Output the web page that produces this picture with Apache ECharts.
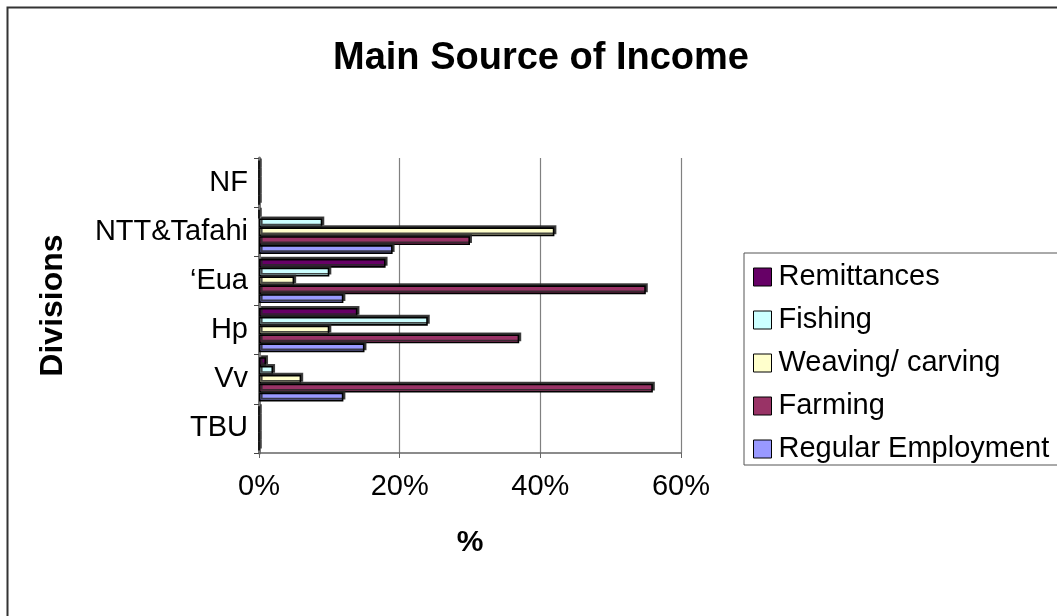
<!DOCTYPE html>
<html>
<head>
<meta charset="utf-8">
<script src="https://cdn.jsdelivr.net/npm/echarts@6/dist/echarts.min.js"></script>
<style>
html,body{margin:0;padding:0;background:#fff;}
#chart{width:1057px;height:616px;}
</style>
</head>
<body>
<div id="chart"></div>
<script>
const divisions = ['TBU', 'Vv', 'Hp', '\u2018Eua', 'NTT&Tafahi', 'NF'];
const regularEmployment = [0, 12, 15, 12, 19, 0];
const farming = [0, 56, 37, 55, 30, 0];
const weavingCarving = [0, 6, 10, 5, 42, 0];
const fishing = [0, 2, 24, 10, 9, 0];
const remittances = [0, 1, 14, 18, 0, 0];
const xTicks = [0, 20, 40, 60];

const FONT = 'Liberation Sans, Arial, sans-serif';
const seriesDefs = [
  {name: 'Remittances', data: remittances, color: '#660066'},
  {name: 'Fishing', data: fishing, color: '#CCFFFF'},
  {name: 'Weaving/ carving', data: weavingCarving, color: '#FFFFCC'},
  {name: 'Farming', data: farming, color: '#993366'},
  {name: 'Regular Employment', data: regularEmployment, color: '#9999FF'}
];

const chart = echarts.init(document.getElementById('chart'), null, {renderer: 'canvas'});
chart.setOption({
  animation: false,
  backgroundColor: '#fff',
  title: {
    text: 'Main Source of Income',
    left: 536, top: 35, textAlign: 'center',
    textStyle: {fontFamily: FONT, fontSize: 38, fontWeight: 'bold', color: '#000'}
  },
  graphic: [{
    type: 'rect', silent: true, z: -10,
    shape: {x: 7.5, y: 7.5, width: 1100, height: 700},
    style: {fill: '#fff', stroke: '#333', lineWidth: 2}
  }],
  legend: {
    orient: 'vertical',
    left: 744, top: 253,
    padding: [9, 300, 1, 9],
    itemGap: 13,
    itemWidth: 18, itemHeight: 18,
    backgroundColor: '#fff',
    borderColor: '#555', borderWidth: 1,
    icon: 'rect',
    data: seriesDefs.map(s => s.name),
    itemStyle: {borderColor: '#000', borderWidth: 1},
    textStyle: {fontFamily: FONT, fontSize: 29, color: '#000', lineHeight: 30, padding: [0,0,0,2]}
  },
  grid: {left: 259, right: 376, top: 158, bottom: 163, containLabel: false},
  xAxis: {
    type: 'value', min: xTicks[0], max: xTicks[xTicks.length - 1], interval: xTicks[1] - xTicks[0],
    name: '%', nameLocation: 'middle', nameGap: 75,
    nameTextStyle: {fontFamily: FONT, fontSize: 30, fontWeight: 'bold', color: '#000'},
    axisLine: {show: true, lineStyle: {color: '#666', width: 1.5}},
    axisTick: {show: true, length: 5, lineStyle: {color: '#666'}},
    axisLabel: {formatter: '{value}%', margin: 19, fontFamily: FONT, fontSize: 29, color: '#000'},
    splitLine: {show: true, lineStyle: {color: '#808080', width: 1.2}}
  },
  yAxis: {
    type: 'category', data: divisions,
    name: 'Divisions', nameLocation: 'middle', nameRotate: 90, nameGap: 190,
    nameTextStyle: {fontFamily: FONT, fontSize: 32, fontWeight: 'bold', color: '#000'},
    axisLine: {show: true, lineStyle: {color: '#777', width: 3}},
    axisTick: {show: true, length: 5, lineStyle: {color: '#444'}},
    axisLabel: {margin: 11, fontFamily: FONT, fontSize: 29, color: '#000'}
  },
  series: seriesDefs.map(s => ({
    type: 'bar', name: s.name, data: s.data,
    barGap: '0%', barCategoryGap: '10%',
    itemStyle: {
      color: s.color, borderColor: '#000', borderWidth: 1.6,
      shadowColor: 'rgba(40,40,40,0.85)', shadowBlur: 0, shadowOffsetX: 2, shadowOffsetY: -2
    }
  }))
});
</script>
</body>
</html>
